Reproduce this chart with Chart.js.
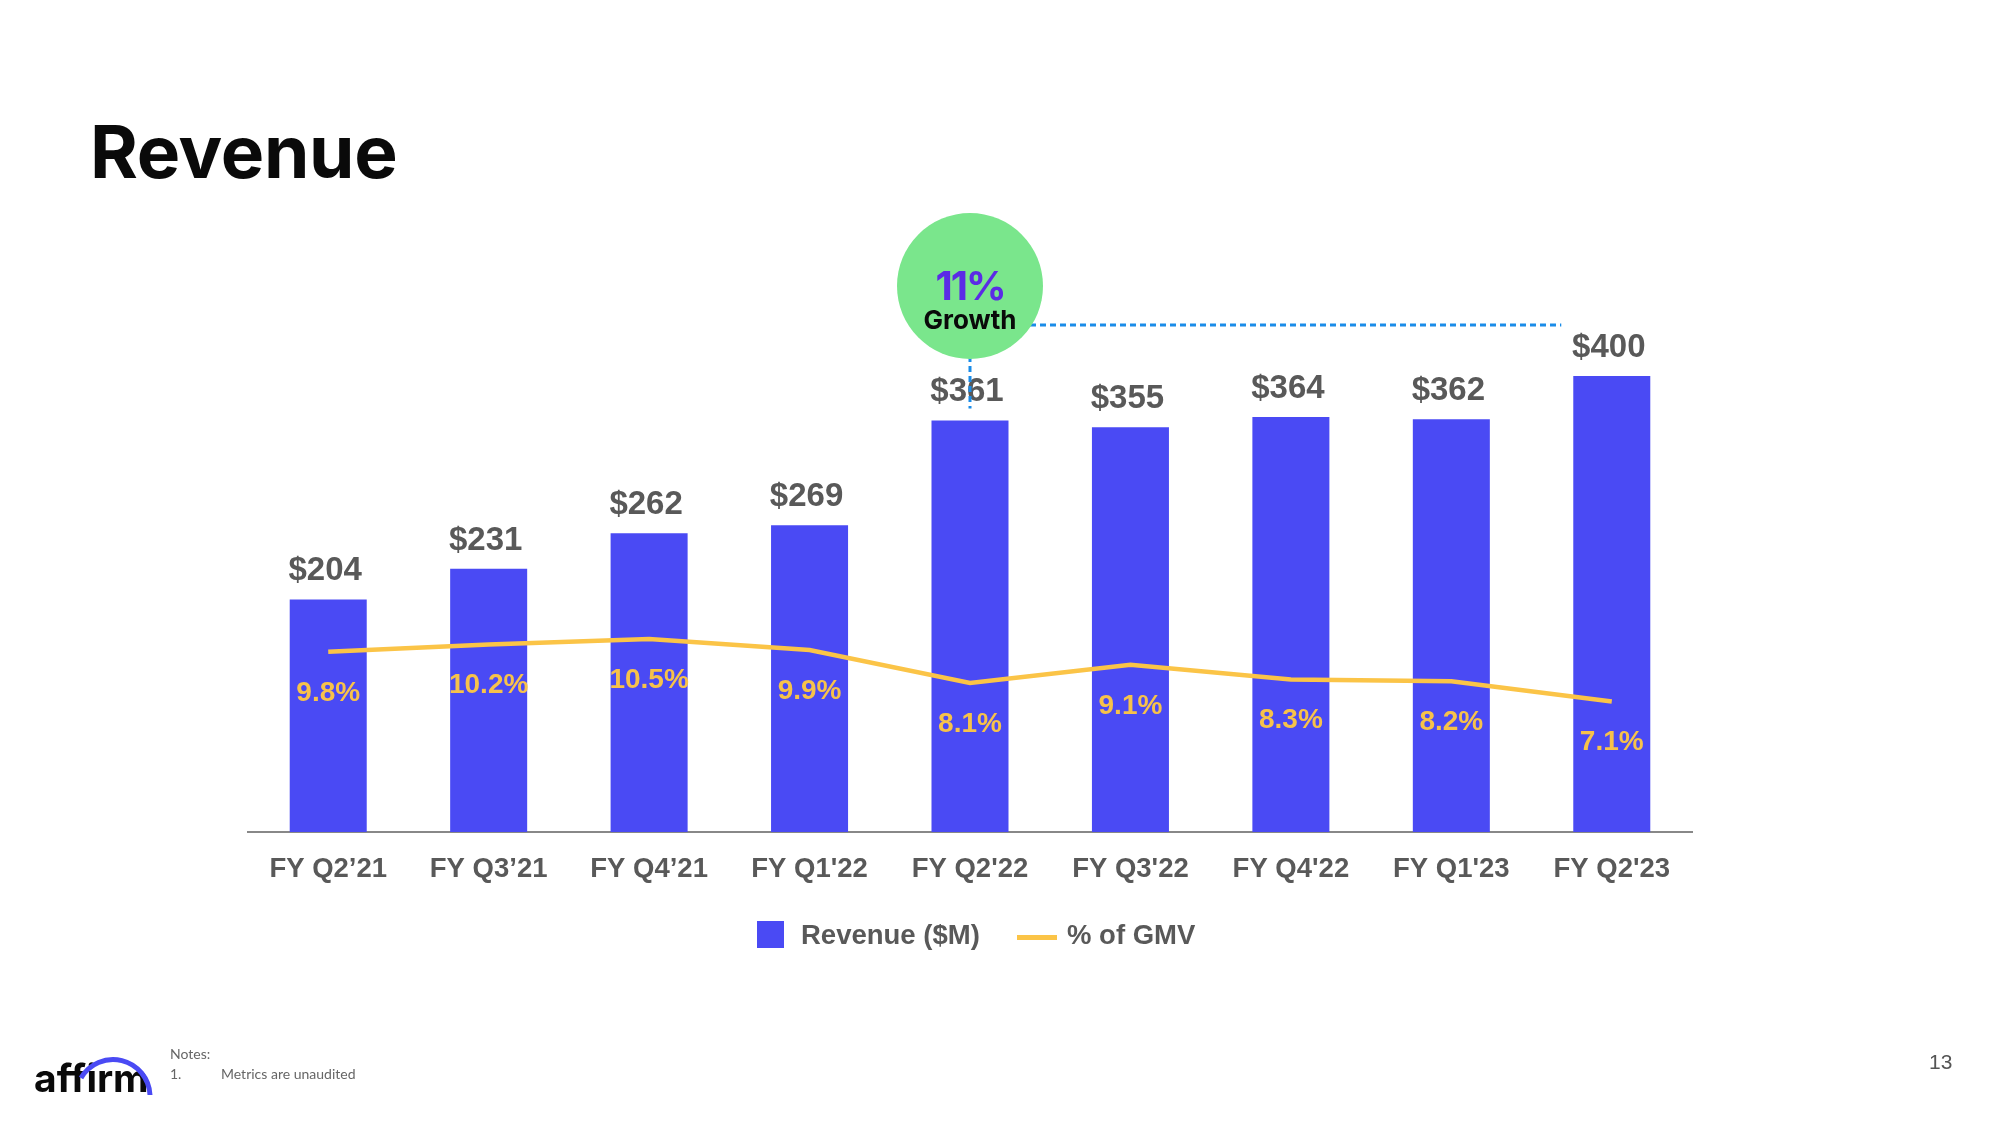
<!DOCTYPE html>
<html>
<head>
<meta charset="utf-8">
<script src="https://cdn.jsdelivr.net/npm/chart.js@4"></script>
<style>
  html, body { margin:0; padding:0; background:#fff; }
  body { width:2000px; height:1125px; position:relative; overflow:hidden; }
  #c { position:absolute; left:0; top:0; }
  .abs { position:absolute; white-space:nowrap; }
  #title { left:90px; top:107px; font:700 73px Inter, "Noto Sans", sans-serif; color:#0a0a0a; letter-spacing:-0.3px; }
  .leg-text { font:700 27.5px "Liberation Sans", Arial, sans-serif; color:#595959; }
  .foot { font:400 14px Lato, "Open Sans", sans-serif; color:#666; }
  #pg { left:1929px; top:1050px; font:400 21px "Liberation Sans", Arial, sans-serif; color:#555; }
  #logo { left:34px; top:1054px; font:700 39px Inter, "Noto Sans", sans-serif; color:#0a0a0a; letter-spacing:0px; }
</style>
</head>
<body>
<canvas id="c" width="2000" height="1125"></canvas>
<div id="title" class="abs">Revenue</div>

<div class="abs" style="left:757px;top:921px;width:27px;height:27px;background:#4a4af4;"></div>
<div class="abs leg-text" style="left:801px;top:919px;">Revenue ($M)</div>
<div class="abs" style="left:1017px;top:935px;width:40px;height:5px;background:#fbc447;"></div>
<div class="abs leg-text" style="left:1067px;top:919px;">% of GMV</div>

<div id="logo" class="abs">affirm</div>
<svg class="abs" style="left:0;top:1000px;" width="200" height="125">
  <path d="M 81 78 A 37 37 0 0 1 150 95" fill="none" stroke="#4a4af4" stroke-width="5"/>
</svg>
<div class="abs foot" style="left:170px;top:1045px;">Notes:</div>
<div class="abs foot" style="left:170px;top:1065px;">1.</div>
<div class="abs foot" style="left:221px;top:1065px;">Metrics are unaudited</div>
<div id="pg" class="abs">13</div>

<script>
const categories = ["FY Q2’21","FY Q3’21","FY Q4’21","FY Q1'22","FY Q2'22","FY Q3'22","FY Q4'22","FY Q1'23","FY Q2'23"];
const revenue = [204, 231, 262, 269, 361, 355, 364, 362, 400];
const pctGmv = [9.8, 10.2, 10.5, 9.9, 8.1, 9.1, 8.3, 8.2, 7.1];
const growthText = ["11%", "Growth"];

const BLUE = '#4a4af4', YELLOW = '#fbc447', GRAY = '#595959';

const labelPlugin = {
  id: 'labels',
  afterDatasetsDraw(chart) {
    const ctx = chart.ctx;
    const barMeta = chart.getDatasetMeta(1);
    const lineMeta = chart.getDatasetMeta(0);
    ctx.save();
    ctx.textAlign = 'center';
    ctx.textBaseline = 'alphabetic';
    ctx.font = '700 33px "Liberation Sans", Arial, sans-serif';
    ctx.fillStyle = GRAY;
    barMeta.data.forEach((b, i) => {
      ctx.fillText('$' + revenue[i], b.x - 3, b.y - 19);
    });
    ctx.font = '700 28px "Liberation Sans", Arial, sans-serif';
    ctx.fillStyle = '#f7c24a';
    lineMeta.data.forEach((p, i) => {
      ctx.fillText(pctGmv[i].toFixed(1) + '%', p.x, p.y + 49);
    });

    // annotation: growth bubble
    const xs = chart.scales.x;
    const cx = xs.getPixelForValue(4);
    const lastBar = barMeta.data[8];
    const cy = 286, r = 73, hy = 325;
    ctx.strokeStyle = '#1a8ce8';
    ctx.lineWidth = 3;
    ctx.setLineDash([6, 4]);
    ctx.beginPath();
    ctx.moveTo(cx, hy);
    ctx.lineTo(lastBar.x - lastBar.width / 2 - 12, hy);
    ctx.stroke();
    ctx.beginPath();
    ctx.moveTo(cx, cy);
    ctx.lineTo(cx, barMeta.data[4].y - 12);
    ctx.stroke();
    ctx.setLineDash([]);
    ctx.fillStyle = '#7ae68c';
    ctx.beginPath();
    ctx.arc(cx, cy, r, 0, Math.PI * 2);
    ctx.fill();
    ctx.fillStyle = '#5b2be6';
    ctx.font = '700 40px Inter, "Noto Sans", sans-serif';
    if ('letterSpacing' in ctx) ctx.letterSpacing = '-2px';
    ctx.fillText(growthText[0], cx, 300);
    if ('letterSpacing' in ctx) ctx.letterSpacing = '0px';
    ctx.fillStyle = '#0a0a0a';
    ctx.font = '700 26px Inter, "Noto Sans", sans-serif';
    ctx.fillText(growthText[1], cx, 329);
    ctx.restore();
  }
};

new Chart(document.getElementById('c'), {
  data: {
    labels: categories,
    datasets: [
      { type: 'line', label: '% of GMV', data: pctGmv, yAxisID: 'y1', borderColor: YELLOW,
        borderWidth: 4.5, pointRadius: 0, tension: 0, order: 0 },
      { type: 'bar', label: 'Revenue ($M)', data: revenue, yAxisID: 'y', backgroundColor: BLUE,
        categoryPercentage: 1, barPercentage: 0.48, order: 1 }
    ]
  },
  options: {
    responsive: false,
    devicePixelRatio: 1,
    animation: false,
    layout: { padding: { left: 248, right: 308, top: 262, bottom: 233 } },
    plugins: { legend: { display: false }, tooltip: { enabled: false } },
    scales: {
      x: {
        grid: { display: false, drawTicks: false },
        border: { display: true, color: '#888888', width: 2 },
        ticks: { color: GRAY, padding: 21, font: { family: '"Liberation Sans", Arial, sans-serif', size: 27.5, weight: 'bold' }, maxRotation: 0, autoSkip: false },
        afterFit(s) { s.height = 60; }
      },
      y: { display: false, min: 0, max: 500 },
      y1: { display: false, min: 0, max: 31 }
    }
  },
  plugins: [labelPlugin]
});
</script>
</body>
</html>
